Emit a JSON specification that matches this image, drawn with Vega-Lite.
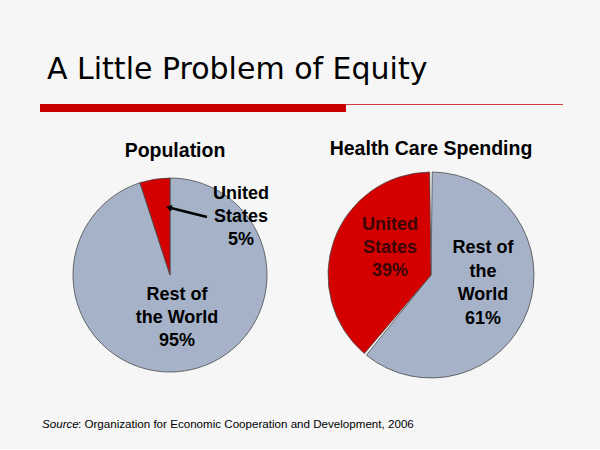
{
  "$schema": "https://vega.github.io/schema/vega-lite/v6.json",
  "background": "#f6f6f6",
  "padding": {"left": 40, "top": 54, "right": 36, "bottom": 18},
  "config": {"view": {"stroke": null}},
  "datasets": {
    "shares": [
      {"chart": "Population", "region": "Rest of the World", "share": 95, "label": "Rest of\nthe World\n95%"},
      {"chart": "Population", "region": "United States", "share": 5, "label": "United\nStates\n5%"},
      {"chart": "Health Care Spending", "region": "Rest of the World", "share": 61, "label": "Rest of\nthe\nWorld\n61%"},
      {"chart": "Health Care Spending", "region": "United States", "share": 39, "label": "United\nStates\n39%"}
    ]
  },
  "spacing": 26,
  "vconcat": [
    {
      "width": 523,
      "height": 8,
      "title": {"text": "A Little Problem of Equity", "font": "DejaVu Sans", "fontSize": 30, "fontWeight": "normal", "color": "#000000", "anchor": "start", "dx": 7, "offset": -5, "baseline": "alphabetic"},
      "data": {"values": [{}]},
      "layer": [
        {
          "mark": {"type": "rect", "color": "#c80000"},
          "encoding": {
            "x": {"datum": 0, "type": "quantitative", "scale": {"domain": [0, 523]}, "axis": null},
            "x2": {"datum": 306},
            "y": {"datum": 0, "type": "quantitative", "scale": {"domain": [0, 8]}, "axis": null},
            "y2": {"datum": 8}
          }
        },
        {
          "mark": {"type": "rule", "color": "#d04040", "strokeWidth": 1.2},
          "encoding": {
            "x": {"datum": 306, "type": "quantitative", "scale": {"domain": [0, 523]}, "axis": null},
            "x2": {"datum": 523},
            "y": {"datum": 7.5, "type": "quantitative", "scale": {"domain": [0, 8]}, "axis": null}
          }
        }
      ]
    },
    {
      "spacing": 10,
      "hconcat": [
        {
          "width": 260,
          "height": 206,
          "title": {"text": "Population", "font": "Liberation Sans", "fontSize": 19.5, "fontWeight": "bold", "color": "#000000", "dx": 5, "offset": -4, "baseline": "alphabetic"},
          "data": {"name": "shares"},
          "transform": [{"filter": "datum.chart === 'Population'"}],
          "layer": [
            {
              "mark": {"type": "arc", "outerRadius": 97, "stroke": "#4a4a4a", "strokeWidth": 0.8},
              "encoding": {
                "theta": {"field": "share", "type": "quantitative", "stack": true},
                "color": {"field": "region", "type": "nominal", "scale": {"domain": ["United States", "Rest of the World"], "range": ["#d40000", "#a5b2c8"]}, "legend": null},
                "order": {"field": "region", "sort": "ascending"}
              }
            },
            {
              "transform": [{"filter": "datum.region === 'Rest of the World'"}],
              "mark": {"type": "text", "font": "Liberation Sans", "fontWeight": "bold", "fontSize": 18, "lineBreak": "\n", "lineHeight": 23, "align": "center", "baseline": "middle", "color": "#000000"},
              "encoding": {
                "text": {"field": "label"},
                "x": {"datum": 0.072, "type": "quantitative", "scale": {"domain": [-1.3402, 1.3402]}, "axis": null},
                "y": {"datum": -0.211, "type": "quantitative", "scale": {"domain": [-1.0619, 1.0619]}, "axis": null}
              }
            },
            {
              "transform": [{"filter": "datum.region === 'United States'"}],
              "mark": {"type": "text", "font": "Liberation Sans", "fontWeight": "bold", "fontSize": 18, "lineBreak": "\n", "lineHeight": 23, "align": "center", "baseline": "middle", "color": "#000000"},
              "encoding": {
                "text": {"field": "label"},
                "x": {"datum": 0.732, "type": "quantitative", "scale": {"domain": [-1.3402, 1.3402]}, "axis": null},
                "y": {"datum": 0.84, "type": "quantitative", "scale": {"domain": [-1.0619, 1.0619]}, "axis": null}
              }
            },
            {
              "data": {"values": [{}]},
              "mark": {"type": "rule", "color": "#000000", "strokeWidth": 2.5},
              "encoding": {
                "x": {"datum": 0.381, "type": "quantitative", "scale": {"domain": [-1.3402, 1.3402]}, "axis": null},
                "y": {"datum": 0.598, "type": "quantitative", "scale": {"domain": [-1.0619, 1.0619]}, "axis": null},
                "x2": {"datum": -0.011},
                "y2": {"datum": 0.696}
              }
            },
            {
              "data": {"values": [{}]},
              "mark": {"type": "point", "shape": "triangle-left", "filled": true, "color": "#000000", "opacity": 1, "size": 45, "angle": 14},
              "encoding": {
                "x": {"datum": -0.011, "type": "quantitative", "scale": {"domain": [-1.3402, 1.3402]}, "axis": null},
                "y": {"datum": 0.696, "type": "quantitative", "scale": {"domain": [-1.0619, 1.0619]}, "axis": null}
              }
            }
          ]
        },
        {
          "width": 242,
          "height": 206,
          "title": {"text": "Health Care Spending", "font": "Liberation Sans", "fontSize": 19.5, "fontWeight": "bold", "color": "#000000", "offset": -4, "baseline": "alphabetic"},
          "data": {"name": "shares"},
          "transform": [{"filter": "datum.chart === 'Health Care Spending'"}],
          "layer": [
            {
              "mark": {"type": "arc", "outerRadius": 103, "padAngle": 0.025, "stroke": "#4a4a4a", "strokeWidth": 0.8},
              "encoding": {
                "theta": {"field": "share", "type": "quantitative", "stack": true},
                "color": {"field": "region", "type": "nominal", "scale": {"domain": ["United States", "Rest of the World"], "range": ["#d40000", "#a5b2c8"]}, "legend": null},
                "order": {"field": "region", "sort": "ascending"}
              }
            },
            {
              "transform": [{"filter": "datum.region === 'United States'"}],
              "mark": {"type": "text", "font": "Liberation Sans", "fontWeight": "bold", "fontSize": 18, "lineBreak": "\n", "lineHeight": 23, "align": "center", "baseline": "middle", "color": "#3a0505"},
              "encoding": {
                "text": {"field": "label"},
                "x": {"datum": -0.398, "type": "quantitative", "scale": {"domain": [-1.1748, 1.1748]}, "axis": null},
                "y": {"datum": 0.485, "type": "quantitative", "scale": {"domain": [-1, 1]}, "axis": null}
              }
            },
            {
              "transform": [{"filter": "datum.region === 'Rest of the World'"}],
              "mark": {"type": "text", "font": "Liberation Sans", "fontWeight": "bold", "fontSize": 18, "lineBreak": "\n", "lineHeight": 23.5, "align": "center", "baseline": "middle", "color": "#000000"},
              "encoding": {
                "text": {"field": "label"},
                "x": {"datum": 0.505, "type": "quantitative", "scale": {"domain": [-1.1748, 1.1748]}, "axis": null},
                "y": {"datum": 0.262, "type": "quantitative", "scale": {"domain": [-1, 1]}, "axis": null}
              }
            }
          ]
        }
      ]
    },
    {
      "width": 523,
      "height": 22,
      "data": {"values": [{}]},
      "layer": [
        {
          "mark": {"type": "text", "font": "Liberation Sans", "fontSize": 11.6, "fontStyle": "italic", "align": "left", "baseline": "alphabetic", "color": "#000000"},
          "encoding": {
            "text": {"value": "Source"},
            "x": {"datum": 2, "type": "quantitative", "scale": {"domain": [0, 523]}, "axis": null},
            "y": {"datum": 0, "type": "quantitative", "scale": {"domain": [0, 1]}, "axis": null}
          }
        },
        {
          "mark": {"type": "text", "font": "Liberation Sans", "fontSize": 11.6, "align": "left", "baseline": "alphabetic", "color": "#000000"},
          "encoding": {
            "text": {"value": ": Organization for Economic Cooperation and Development, 2006"},
            "x": {"datum": 38, "type": "quantitative", "scale": {"domain": [0, 523]}, "axis": null},
            "y": {"datum": 0, "type": "quantitative", "scale": {"domain": [0, 1]}, "axis": null}
          }
        }
      ]
    }
  ]
}
